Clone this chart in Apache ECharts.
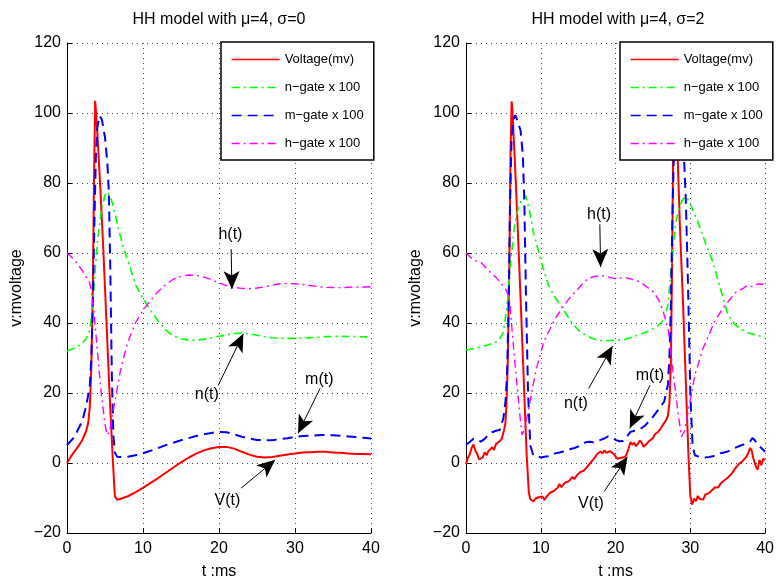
<!DOCTYPE html>
<html><head><meta charset="utf-8">
<script src="https://cdn.jsdelivr.net/npm/echarts@6/dist/echarts.min.js"></script>
<style>html,body{margin:0;padding:0;background:#fff}#c{width:777px;height:585px}</style>
</head><body><div id="c"></div>
<script>
const titles = ['HH model with μ=4, σ=0', 'HH model with μ=4, σ=2'];
const seriesNames = ['Voltage(mv)', 'n−gate x 100', 'm−gate x 100', 'h−gate x 100'];
const xName = 't :ms';
const yName = 'v:mvoltage';
const annotNames = ['h(t)', 'n(t)', 'm(t)', 'V(t)'];

// ---- left panel (sigma = 0) ----
const tV0 = [0,0.5,1,1.5,2,2.5,2.8,3.0,3.2,3.4,3.55,3.7,3.8,4.0,4.4,4.8,5.2,5.6,6.0,6.3,6.6,7,8,9,10,11,12,13,14,15,16,17,18,19,20,21,22,23,24,25,26,27,28,29,30,31,32,33,34,35,36,37,38,39,40];
const V0  = [0,1.8,3.3,4.8,6.5,9,11.5,16,27,50,80,103.5,101,94,78,60,40,20,2,-9.5,-10.5,-10.3,-9.5,-8.4,-7.1,-5.7,-4.3,-2.8,-1.3,0.2,1.5,2.7,3.6,4.2,4.6,4.6,4.1,3.2,2.4,1.8,1.6,1.7,2.1,2.4,2.7,3.0,3.1,3.2,3.2,3.0,2.9,2.7,2.6,2.6,2.5];
const tN0 = [0,1,2,2.5,3,3.3,3.6,4,4.5,5,5.3,5.7,6,6.5,7,7.5,8,9,10,11,12,13,14,15,16,17,18,19,20,21,22,23,24,25,26,27,28,30,32,34,36,38,40];
const N0  = [32,32.8,34.2,35.5,38,43,52,63,72,76.5,77.5,76,74,69.5,65,61,58,51,47,43.6,40.5,38,36.3,35.5,35.1,35.1,35.4,35.8,36.2,36.6,37,37.1,36.9,36.5,36.1,35.8,35.6,35.6,35.8,36.1,36.2,36.1,36];
const tM0 = [0,1,2,2.5,3,3.2,3.4,3.6,3.8,4.0,4.3,4.6,5.0,5.3,5.5,5.7,5.9,6.1,6.3,6.6,7,8,9,10,11,12,13,14,15,16,17,18,19,20,21,22,23,24,25,26,27,28,29,30,31,32,33,34,35,36,37,38,39,40];
const M0  = [5.1,7.5,12,16,22,30,45,68,88,96,99.2,98,93,86,78,55,25,8,3,1.8,1.7,1.8,2.2,2.8,3.5,4.3,5.1,5.8,6.5,7.1,7.7,8.2,8.6,8.9,8.8,8.2,7.5,7.0,6.6,6.5,6.5,6.8,7.1,7.5,7.7,7.8,7.9,8.0,7.9,7.8,7.6,7.4,7.2,7.0];
const tH0 = [0,1,2,3,3.3,3.6,4,4.5,5,5.3,5.6,6,6.5,7,7.5,8,9,10,11,12,13,14,15,16,17,18,19,20,21,22,23,24,25,26,27,28,29,30,31,32,33,34,35,36,37,38,39,40];
const H0  = [60,58,55,51.5,48,42,32,20,11,8,9,14,20,26,30.5,34.5,40,43.6,46.5,49,51,52.5,53.3,53.7,53.6,53.2,52.4,51.5,50.7,50.2,49.9,49.8,50,50.3,50.8,51.2,51.3,51.2,51,50.7,50.4,50.2,50.1,50.1,50.2,50.3,50.3,50.3];

// ---- right panel (sigma = 2) ----
const tV1 = [0,0.25,0.5,0.75,1,1.25,1.5,1.75,2,2.25,2.5,2.75,3,3.25,3.5,3.75,4,4.25,4.5,4.75,5,5.25,
  5.4,5.6,5.8,5.95,6.1,6.2,6.5,6.9,7.3,7.7,8.1,8.4,8.6,
  8.75,9,9.25,9.5,9.75,10,10.25,10.5,10.75,11,11.25,11.5,11.75,12,12.25,12.5,12.75,13,13.25,13.5,13.75,14,14.25,14.5,14.75,15,15.25,15.5,15.75,16,16.25,16.5,16.75,17,17.25,17.5,17.75,18,18.25,18.5,18.75,19,19.25,19.5,19.75,20,20.25,20.5,20.75,21,21.25,21.5,21.75,22,22.25,22.5,22.75,23,23.25,23.5,23.75,24,24.25,24.5,24.75,25,25.25,25.5,25.75,26,26.25,26.5,26.75,27,
  27.2,27.4,27.55,27.7,27.85,28.0,28.3,28.6,29.0,29.4,29.75,30.0,
  30.25,30.5,30.75,31,31.25,31.5,31.75,32,32.25,32.5,32.75,33,33.25,33.5,33.75,34,34.25,34.5,34.75,35,35.25,35.5,35.75,36,36.25,36.5,36.75,37,37.25,37.5,37.75,38,38.2,38.4,38.6,38.8,39,39.25,39.5,39.75,40];
const V1  = [-0.3,1.5,2.4,4.3,5.3,3.5,2.6,1.0,1.2,1.6,3.1,2.2,3.4,3.0,4.5,3.7,5.4,4.9,6.2,6.8,8.6,11,
  16,30,58,88,103.3,101,88,68,47,25,3,-8.5,-10.3,
  -10.6,-11.0,-10.2,-10.7,-9.8,-10.3,-9.6,-10.6,-9.7,-9.3,-8.5,-8.9,-8.0,-7.8,-7.1,-6.0,-6.9,-6.5,-5.6,-6.1,-5.2,-4.9,-4.0,-4.6,-3.7,-3.5,-2.6,-3.1,-2.2,-2.1,-1.0,-0.7,0.3,0.4,1.6,2.5,2.0,3.3,2.7,3.6,2.9,2.6,3.4,3.7,2.6,1.9,1.2,0.9,1.5,1.1,1.7,2.6,4.2,6.0,5.2,5.8,4.8,5.3,6.4,5.8,4.6,5.1,5.7,6.3,6.8,7.1,8.2,7.8,9.0,9.7,10.6,11.1,12.2,13.5,
  17,28,55,88,103,100,88,68,47,23,2,-9.5,
  -11.9,-10.2,-10.9,-9.4,-10.3,-9.8,-10.4,-9.0,-9.4,-8.6,-8.1,-7.6,-7.0,-6.5,-6.9,-6.0,-5.6,-5.0,-5.4,-4.2,-3.9,-3.1,-2.4,-1.5,-1.0,-0.3,0.0,0.6,1.1,1.8,2.9,4.3,3.6,1.5,0.2,-1.2,-1.9,0.9,-0.6,1.2,0.9];
const tN1 = [0,1,2,3,4,4.5,5,5.5,6,6.5,7,7.5,8,8.5,9,10,11,12,13,14,15,16,17,18,19,20,21,22,23,24,25,26,26.5,27,27.5,28,28.5,29,29.5,30,31,32,33,34,35,36,37,38,39,40];
const N1  = [32.2,32.7,33.1,33.8,34.6,35.5,37.4,45,58,68,73,75.5,76.3,72,66,58,51,47,44,40.5,38,36.5,35.5,35,35,35,35.2,35.8,36.5,37.3,38.3,39.8,41.2,45,57,68,73,75.4,76,74,69,63,57.5,50,42.5,39.5,38,37,36.5,35.8];
const tM1 = [0,0.5,1,1.5,2,2.5,3,3.5,4,4.5,5,5.3,5.5,5.7,5.9,6.1,6.4,6.6,7.0,7.3,7.6,7.8,8.0,8.3,8.6,9,9.5,10,10.5,11,11.5,12,12.5,13,13.5,14,14.5,15,15.5,16,16.5,17,17.5,18,18.5,19,19.5,20,20.5,21,21.5,22,22.5,23,23.5,24,24.5,25,25.5,26,26.5,27,27.2,27.4,27.6,27.8,28.0,28.4,28.8,29.1,29.4,29.7,30.0,30.3,30.6,31,31.5,32,32.5,33,33.5,34,34.5,35,35.5,36,36.5,37,37.5,38,38.3,38.6,39,39.5,40];
const M1  = [5.2,6.0,6.9,6.8,6.1,6.9,8.1,8.8,9.2,9.4,12.8,18,26,45,75,93,98.5,99.4,97,95,88,75,50,20,5,2.2,1.9,1.6,1.8,1.9,2.3,2.8,3.0,3.3,3.7,4.0,4.3,4.7,5.3,5.9,6.1,5.9,6.3,6.6,7.0,7.6,7.2,6.6,6.2,6.3,7.5,8.9,9.2,9.4,10.0,10.8,12.0,13.2,14.6,16.1,17.5,22.3,30,45,70,88,93,99,96,90,75,50,20,5,2.2,1.9,1.7,1.6,1.7,1.9,2.3,2.8,3.0,3.3,3.8,4.3,4.8,5.2,5.7,6.2,7.1,6.6,5.2,4.3,3.2];
const tH1 = [0,1,2,3,4,5,5.35,5.8,6.45,7.2,7.5,7.8,8.4,9.3,10.4,11.9,12.8,14.1,14.6,15.5,16.3,17.2,18.1,19,19.8,20.5,21.1,22,23.3,24.2,25.1,25.8,26.4,27.1,27.7,28.4,28.8,29.2,29.7,30.6,31.7,33.2,34.3,35.2,36.1,37,37.6,38.3,39.1,39.6,40];
const H1  = [60,58,57.3,55,53.1,50.5,49.5,47,30.8,13.7,8,9.5,15.6,26,34.6,41.2,44,47.9,48.8,51,52.7,53.3,53.6,53.2,52.7,52.8,53.1,52.6,51.7,50.3,48.8,46.5,43.1,37.4,26,13.7,7.5,9,14.6,25.1,32.7,40.2,44,46.5,48.8,49.8,50.7,50.4,51.2,51.0,51.7];

// annotation arrows [t_start, v_start, t_tip, v_tip] and label centres [t, v]
const arrows0 = [[21.6,61.1,21.7,49.7],[19.9,22.2,23.2,36.9],[33.3,21.3,30.4,8.5],[22.9,-7.2,27.4,0.9]];
const labels0 = [[21.5,65.4],[18.4,19.6],[33.2,23.8],[21.1,-10.6]];
const arrows1 = [[17.9,68.2,18.0,56.0],[16.4,21.3,19.6,33.4],[24.6,22.2,21.9,9.9],[18.5,-8.1,21.6,1.8]];
const labels1 = [[17.8,71.1],[14.7,17.1],[24.6,25.0],[16.7,-11.7]];

const FONT = 'Liberation Sans, Arial, Helvetica, sans-serif';
const zip = (t, v) => t.map((x, i) => [x, v[i]]);
const styles = [
  {color: '#ff0000', width: 2, type: 'solid'},
  {color: '#00ff00', width: 1.6, type: [8, 4, 2, 4]},
  {color: '#0000ff', width: 2, type: [10, 6]},
  {color: '#ff00ff', width: 1.4, type: [8, 4, 2, 4]}
];
const panels = [
  {data: [zip(tV0, V0), zip(tN0, N0), zip(tM0, M0), zip(tH0, H0)], arrows: arrows0, labels: labels0},
  {data: [zip(tV1, V1), zip(tN1, N1), zip(tM1, M1), zip(tH1, H1)], arrows: arrows1, labels: labels1}
];
const gridLeft = [67, 466];
const legendLeft = [221, 620];
const legendTop = [42, 42];

const minus = v => String(v).replace('-', '−');
const option = {
  animation: false,
  backgroundColor: '#fff',
  textStyle: {fontFamily: FONT},
  title: titles.map((t, i) => ({
    text: t, left: gridLeft[i] + 152, top: 12, textAlign: 'center', padding: 0,
    textStyle: {fontFamily: FONT, fontSize: 16, fontWeight: 'normal', color: '#000'}
  })),
  legend: [0, 1].map(i => ({
    data: seriesNames, orient: 'vertical', left: legendLeft[i], top: legendTop[i],
    itemWidth: 48, itemHeight: 14, itemGap: 15, padding: [11, 10, 10, 10],
    backgroundColor: '#fff', borderColor: '#000', borderWidth: 1.5, borderRadius: 0,
    selectedMode: false, z: 10,
    itemStyle: {opacity: 0},
    lineStyle: {width: 1.3},
    textStyle: {fontFamily: FONT, fontSize: 13, color: '#000'}
  })),
  grid: [0, 1].map(i => ({left: gridLeft[i], top: 43, width: 304, height: 492, containLabel: false})),
  xAxis: [0, 1].map(i => ({
    type: 'value', gridIndex: i, min: 0, max: 40, interval: 10,
    name: xName, nameLocation: 'middle', nameGap: 31,
    nameTextStyle: {fontFamily: FONT, fontSize: 16, color: '#000'},
    axisLine: {show: true, onZero: false, lineStyle: {color: '#000', width: 1}},
    axisTick: {show: true, inside: true, length: 5, lineStyle: {color: '#000'}},
    axisLabel: {fontFamily: FONT, fontSize: 16, color: '#000', margin: 8},
    splitLine: {show: true, lineStyle: {color: '#444', width: 1, type: [1, 4]}}
  })),
  yAxis: [0, 1].map(i => ({
    type: 'value', gridIndex: i, min: -20, max: 120, interval: 20,
    name: yName, nameLocation: 'middle', nameGap: 42,
    nameTextStyle: {fontFamily: FONT, fontSize: 16, color: '#000'},
    axisLine: {show: true, onZero: false, lineStyle: {color: '#000', width: 1}},
    axisTick: {show: true, inside: true, length: 5, lineStyle: {color: '#000'}},
    axisLabel: {fontFamily: FONT, fontSize: 16, color: '#000', margin: 6, formatter: minus},
    splitLine: {show: true, lineStyle: {color: '#444', width: 1, type: [1, 4]}}
  })),
  series: []
};
panels.forEach((p, i) => {
  p.data.forEach((d, k) => {
    const s = {
      name: seriesNames[k], type: 'line', xAxisIndex: i, yAxisIndex: i,
      data: d, showSymbol: false, symbol: 'none', smooth: false, clip: true,
      color: styles[k].color, lineStyle: styles[k], silent: true, z: 2
    };
    if (k === 0) {
      s.markLine = {
        silent: true, symbol: ['none', 'arrow'], symbolSize: [12, 18],
        lineStyle: {color: '#000', width: 1, type: 'solid'},
        label: {show: false}, emphasis: {disabled: true},
        data: p.arrows.map(a => [{coord: [a[0], a[1]]}, {coord: [a[2], a[3]]}])
      };
      s.markPoint = {
        silent: true, symbol: 'circle', symbolSize: 0,
        label: {show: true, position: 'inside', color: '#000', fontFamily: FONT, fontSize: 16,
                formatter: q => q.name},
        data: p.labels.map((l, j) => ({name: annotNames[j], coord: l}))
      };
    }
    option.series.push(s);
  });
});
const chart = echarts.init(document.getElementById('c'), null, {renderer: 'canvas'});
chart.setOption(option);
</script></body></html>
